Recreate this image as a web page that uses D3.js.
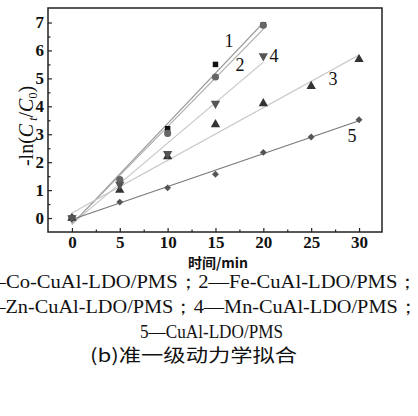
<!DOCTYPE html>
<html>
<head>
<meta charset="utf-8">
<script src="https://d3js.org/d3.v7.min.js"></script>
<style>
body{margin:0;background:#fff;}
</style>
</head>
<body>
<svg id="chart" width="418" height="416"></svg>
<script>
// time points (min)
var times = [0, 5, 10, 15, 20, 25, 30];
// -ln(Ct/C0) per catalyst
var s1 = [0, 1.30, 3.20, 5.50, 6.92];
var s2 = [0, 1.38, 3.03, 5.05, 6.90];
var s3 = [0, 1.00, 2.20, 3.35, 4.10, 4.72, 5.68];
var s4 = [0, 1.20, 2.30, 4.10, 5.80];
var s5 = [0, 0.57, 1.08, 1.57, 2.35, 2.90, 3.52];
var seriesNames = ["1", "2", "3", "4", "5"];
var xTicks = [0, 5, 10, 15, 20, 25, 30];
var yTicks = [0, 1, 2, 3, 4, 5, 6, 7];
var captions = ["1\u2014Co-CuAl-LDO/PMS\uff1b2\u2014Fe-CuAl-LDO/PMS\uff1b",
                "3\u2014Zn-CuAl-LDO/PMS\uff1b4\u2014Mn-CuAl-LDO/PMS\uff1b",
                "5\u2014CuAl-LDO/PMS",
                "(b)\u51c6\u4e00\u7ea7\u52a8\u529b\u5b66\u62df\u5408"];

var series = [
  {y: s1, sym: d3.symbolSquare, size: 30, fill: "#111", line: "#999", lab: [229, 43]},
  {y: s2, sym: d3.symbolCircle, size: 40, fill: "#666", line: "#aaa", lab: [240, 67]},
  {y: s3, sym: d3.symbolTriangle, size: 38, fill: "#333", line: "#c4c4c4", lab: [333, 81]},
  {y: s4, sym: d3.symbolTriangle, size: 38, fill: "#555", line: "#c4c4c4", lab: [274, 58], rot: 180},
  {y: s5, sym: d3.symbolSquare, size: 24, fill: "#555", line: "#777", lab: [352, 138], rot: 45}
];

var L = 48, T = 8, R = 382, B = 232;
var svg = d3.select("#chart");
var x = d3.scaleLinear().domain([-2.5, 32.4]).range([L, R]);
var y = d3.scaleLinear().domain([-0.5, 7.52]).range([B, T]);

// least squares fit
function fit(ys) {
  var xs = times.slice(0, ys.length);
  var mx = d3.mean(xs), my = d3.mean(ys);
  var sxy = d3.sum(xs, function(v, i){ return (v - mx) * (ys[i] - my); });
  var sxx = d3.sum(xs, function(v){ return (v - mx) * (v - mx); });
  var k = sxy / sxx;
  return {k: k, b: my - k * mx, x1: xs[xs.length - 1]};
}

// axes (ticks inside)
svg.append("g").attr("transform", "translate(0," + B + ")")
  .call(d3.axisBottom(x).tickValues(xTicks).tickSize(-4).tickPadding(4));
svg.append("g").attr("transform", "translate(0," + B + ")")
  .call(d3.axisBottom(x).tickValues([2.5, 7.5, 12.5, 17.5, 22.5, 27.5]).tickSize(-2.5).tickFormat(""));
svg.append("g").attr("transform", "translate(" + L + ",0)")
  .call(d3.axisLeft(y).tickValues(yTicks).tickSize(-4).tickPadding(4));
svg.append("g").attr("transform", "translate(" + L + ",0)")
  .call(d3.axisLeft(y).tickValues([0.5, 1.5, 2.5, 3.5, 4.5, 5.5, 6.5]).tickSize(-2.5).tickFormat(""));
svg.selectAll(".domain").remove();
svg.selectAll(".tick line").attr("stroke", "#222").attr("stroke-width", 1.2);
svg.selectAll(".tick text").attr("font-family", "Liberation Serif, serif")
  .attr("font-weight", "bold").attr("font-size", 17).attr("fill", "#111");

svg.append("rect").attr("x", L).attr("y", T).attr("width", R - L).attr("height", B - T)
  .attr("fill", "none").attr("stroke", "#222").attr("stroke-width", 1.5);

// fit lines
series.forEach(function(s){
  var f = fit(s.y);
  svg.append("line")
    .attr("x1", x(0)).attr("y1", y(f.b))
    .attr("x2", x(f.x1)).attr("y2", y(f.b + f.k * f.x1))
    .attr("stroke", s.line).attr("stroke-width", 1.1);
});

// markers + curve numbers
series.forEach(function(s, j){
  svg.append("g").selectAll("path").data(s.y).enter().append("path")
    .attr("d", d3.symbol().type(s.sym).size(s.size))
    .attr("transform", function(d, i){
      return "translate(" + x(times[i]) + "," + y(d) + ")" + (s.rot ? " rotate(" + s.rot + ")" : "");
    })
    .attr("fill", s.fill);
  svg.append("text").attr("x", s.lab[0]).attr("y", s.lab[1])
    .attr("font-family", "Liberation Serif, serif").attr("font-size", 18)
    .attr("text-anchor", "middle").attr("dominant-baseline", "middle")
    .attr("fill", "#111").text(seriesNames[j]);
});

// y title
var yt = svg.append("text").attr("transform", "translate(33,126) rotate(-90)")
  .attr("text-anchor", "middle").attr("font-family", "Liberation Serif, serif")
  .attr("font-size", 20).attr("fill", "#111");
yt.append("tspan").text("-ln(");
yt.append("tspan").attr("font-style", "italic").text("C");
yt.append("tspan").attr("font-size", 12).attr("dy", 4).attr("font-style", "italic").text(" t");
yt.append("tspan").attr("dy", -4).text("/");
yt.append("tspan").attr("font-style", "italic").text("C");
yt.append("tspan").attr("font-size", 12).attr("dy", 4).text("0");
yt.append("tspan").attr("dy", -4).text(")");

// x title
svg.append("text").attr("x", 218).attr("y", 268).attr("text-anchor", "middle")
  .attr("font-family", "Noto Sans CJK SC, sans-serif").attr("font-weight", "bold")
  .attr("font-size", 14).attr("fill", "#111").text("时间/min");

// caption (first two lines run past the left edge, as in the source)
var cap = [
  {x: -25, y: 288, len: 443},
  {x: -25, y: 313, len: 443},
  {x: 140, y: 338, len: 143},
  {x: 90, y: 362, len: 207}
];
captions.forEach(function(t, i){
  svg.append("text").attr("x", cap[i].x).attr("y", cap[i].y)
    .attr("font-family", i == 3 ? "Noto Sans CJK SC, sans-serif" : "Liberation Serif, serif")
    .attr("font-size", 18).attr("fill", "#111")
    .attr("textLength", cap[i].len).attr("lengthAdjust", "spacingAndGlyphs")
    .text(t);
});
</script>
</body>
</html>
